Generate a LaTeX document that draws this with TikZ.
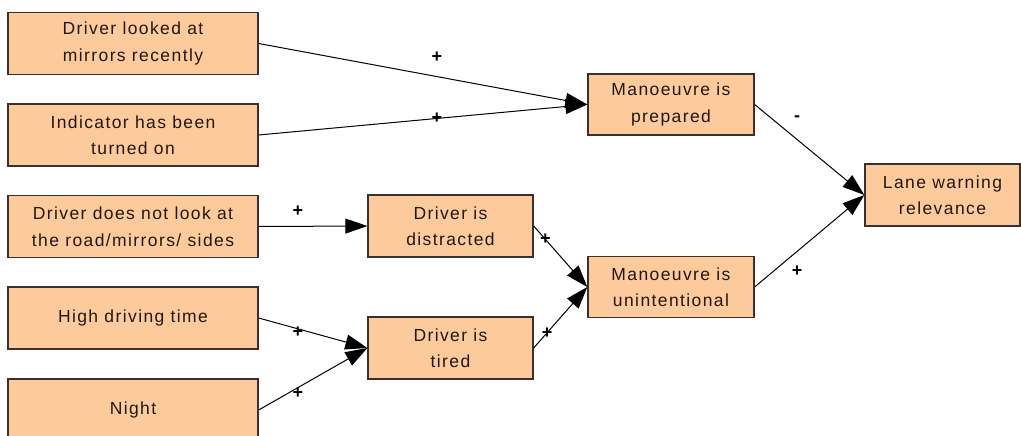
\documentclass[tikz,border=0pt]{standalone}
\usepackage{fontspec}
\setmainfont{Liberation Sans}
\newfontfamily\boxfont{Liberation Sans}[LetterSpace=8]
\usetikzlibrary{arrows.meta}
\definecolor{boxfill}{HTML}{FDCA9B}
\definecolor{boxline}{HTML}{3A3030}
\definecolor{txt}{HTML}{221810}
\tikzset{
  box/.style={draw=boxline, fill=boxfill, line width=1.3pt, inner sep=0pt,
    align=center, text=txt, font=\boxfont\fontsize{17.5}{26.5}\selectfont},
  leftbox/.style={box, minimum width=250pt, minimum height=62pt},
  midbox/.style={box, minimum width=165pt, minimum height=62pt},
  conn/.style={draw=black, line width=1pt, -{Triangle[length=22pt,width=15pt]}},
  lbl/.style={font=\bfseries\fontsize{18}{18}\selectfont, inner sep=0pt, text=black}
}
\begin{document}
\begin{tikzpicture}[x=1pt,y=-1pt]
\useasboundingbox (0,0) rectangle (1021,436);
\fill[white] (0,0) rectangle (1021,436);
% nodes
\node[leftbox] (A) at (133,43.5) {Driver looked at\\mirrors recently};
\node[leftbox] (B) at (133,135) {Indicator has been\\turned on};
\node[leftbox] (C) at (133,226.5) {Driver does not look at\\the road/mirrors/ sides};
\node[leftbox] (D) at (133,318) {High driving time};
\node[leftbox] (E) at (133,410) {Night};
\node[midbox] (dis) at (450.5,226) {Driver is\\distracted};
\node[midbox] (tir) at (450.5,348) {Driver is\\tired};
\node[box, minimum width=166pt, minimum height=61pt] (prep) at (671,104.5) {Manoeuvre is\\prepared};
\node[box, minimum width=166pt, minimum height=61pt] (unint) at (671,287) {Manoeuvre is\\unintentional};
\node[box, minimum width=155pt, minimum height=62pt] (lane) at (942.5,195) {Lane warning\\relevance};
% connectors
\draw[conn] (A.east) -- node[lbl, pos=0.542, yshift=19pt] {+} (prep.west);
\draw[conn] (B.east) -- node[lbl, pos=0.542] {+} (prep.west);
\draw[conn] (C.east) -- node[lbl, pos=0.36, yshift=15pt] {+} (dis.west);
\draw[conn] (D.east) -- node[lbl, pos=0.36, yshift=-3pt] {+} (tir.west);
\draw[conn] (E.east) -- node[lbl, pos=0.36, yshift=-6pt] {+} (tir.west);
\draw[conn] (dis.east) -- node[lbl, pos=0.22] {+} (unint.west);
\draw[conn] (tir.east) -- node[lbl, pos=0.25] {+} (unint.west);
\draw[conn] (prep.east) -- node[lbl, pos=0.387, yshift=21pt] {-} (lane.west);
\draw[conn] (unint.east) -- node[lbl, pos=0.387, yshift=-20pt] {+} (lane.west);
\end{tikzpicture}
\end{document}
